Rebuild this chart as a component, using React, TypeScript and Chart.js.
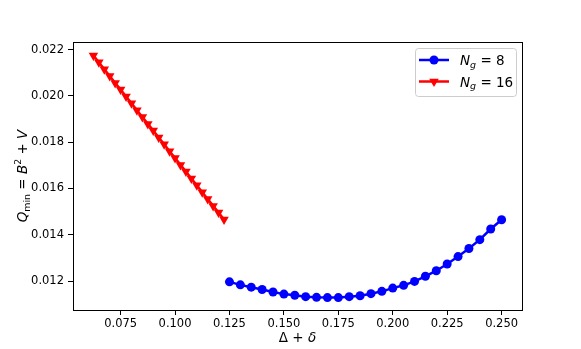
import React, { useEffect, useRef } from "react";
import { Chart, registerables } from "chart.js";
Chart.register(...registerables);

const xBlue = [0.125, 0.13, 0.135, 0.14, 0.145, 0.15, 0.155, 0.16, 0.165, 0.17, 0.175, 0.18, 0.185, 0.19, 0.195, 0.2, 0.205, 0.21, 0.215, 0.22, 0.225, 0.23, 0.235, 0.24, 0.245, 0.25];
const yBlue = [0.01197, 0.01184, 0.01174, 0.01164, 0.01153, 0.01144, 0.01139, 0.01133, 0.0113, 0.01129, 0.01129, 0.01133, 0.01137, 0.01146, 0.01156, 0.0117, 0.01182, 0.01199, 0.01221, 0.01245, 0.01274, 0.01306, 0.01341, 0.01379, 0.01425, 0.01465];
const xRed = [0.0625, 0.065, 0.0675, 0.07, 0.0725, 0.075, 0.0775, 0.08, 0.0825, 0.085, 0.0875, 0.09, 0.0925, 0.095, 0.0975, 0.1, 0.1025, 0.105, 0.1075, 0.11, 0.1125, 0.115, 0.1175, 0.12, 0.1225];
const yRed = [0.02174, 0.02145, 0.02115, 0.02086, 0.02056, 0.02027, 0.01997, 0.01968, 0.01938, 0.01909, 0.01879, 0.0185, 0.0182, 0.01791, 0.01761, 0.01732, 0.01702, 0.01673, 0.01643, 0.01614, 0.01584, 0.01555, 0.01525, 0.01496, 0.01466];
const xTicks = [0.075, 0.1, 0.125, 0.15, 0.175, 0.2, 0.225, 0.25];
const yTicks = [0.012, 0.014, 0.016, 0.018, 0.02, 0.022];
const seriesNg = ["8", "16"];

type Seg = { t: string; it?: boolean; sub?: boolean; sup?: boolean };
const FAM = '"DejaVu Sans"';

function segFont(s: Seg, size: number) {
  const sz = s.sub || s.sup ? size * 0.7 : size;
  return `${s.it ? "italic " : ""}${sz}px ${FAM}`;
}
function measureSegs(ctx: CanvasRenderingContext2D, segs: Seg[], size: number) {
  let w = 0;
  for (const s of segs) {
    ctx.font = segFont(s, size);
    w += ctx.measureText(s.t).width;
  }
  return w;
}
function drawSegs(ctx: CanvasRenderingContext2D, segs: Seg[], x: number, y: number, size: number) {
  let cx = x;
  for (const s of segs) {
    ctx.font = segFont(s, size);
    const dy = s.sub ? size * 0.22 : s.sup ? -size * 0.42 : 0;
    ctx.fillText(s.t, cx, y + dy);
    cx += ctx.measureText(s.t).width;
  }
}

const xLabel: Seg[] = [{ t: "Δ" }, { t: " + " }, { t: "δ", it: true }];
const yLabel: Seg[] = [
  { t: "Q", it: true },
  { t: "min", sub: true },
  { t: " = " },
  { t: "B", it: true },
  { t: "2", sup: true },
  { t: " + " },
  { t: "V", it: true },
];

const decor = {
  id: "decor",
  afterDraw(chart: any) {
    const ctx: CanvasRenderingContext2D = chart.ctx;
    const a = chart.chartArea;
    ctx.save();
    ctx.strokeStyle = "#000";
    ctx.lineWidth = 1;
    ctx.strokeRect(Math.round(a.left) + 0.5, Math.round(a.top) + 0.5, Math.round(a.right - a.left), Math.round(a.bottom - a.top));
    ctx.fillStyle = "#000";
    ctx.textBaseline = "alphabetic";
    const size = 13.5;
    const wx = measureSegs(ctx, xLabel, size);
    drawSegs(ctx, xLabel, (a.left + a.right) / 2 - wx / 2, 341.5, size);
    const wy = measureSegs(ctx, yLabel, size);
    ctx.save();
    ctx.translate(27, (a.top + a.bottom) / 2);
    ctx.rotate(-Math.PI / 2);
    drawSegs(ctx, yLabel, -wy / 2, 0, size);
    ctx.restore();

    // legend
    const bx = 415.5, by = 48.5, bw = 101, bh = 48, r = 3;
    ctx.beginPath();
    ctx.moveTo(bx + r, by);
    ctx.arcTo(bx + bw, by, bx + bw, by + bh, r);
    ctx.arcTo(bx + bw, by + bh, bx, by + bh, r);
    ctx.arcTo(bx, by + bh, bx, by, r);
    ctx.arcTo(bx, by, bx + bw, by, r);
    ctx.closePath();
    ctx.fillStyle = "rgba(255,255,255,0.8)";
    ctx.fill();
    ctx.strokeStyle = "#cccccc";
    ctx.lineWidth = 1;
    ctx.stroke();
    const colors = ["#0000ff", "#ff0000"];
    const ys = [60, 81.5];
    for (let i = 0; i < 2; i++) {
      const y = ys[i];
      ctx.strokeStyle = colors[i];
      ctx.fillStyle = colors[i];
      ctx.lineWidth = 2.5;
      ctx.beginPath();
      ctx.moveTo(419, y);
      ctx.lineTo(449, y);
      ctx.stroke();
      ctx.beginPath();
      if (i === 0) {
        ctx.arc(434, y, 4.5, 0, Math.PI * 2);
      } else {
        ctx.moveTo(434 - 4.8, y - 2.75);
        ctx.lineTo(434 + 4.8, y - 2.75);
        ctx.lineTo(434, y + 5.5);
        ctx.closePath();
      }
      ctx.fill();
      ctx.fillStyle = "#000";
      const segs: Seg[] = [{ t: "N", it: true }, { t: "g", it: true, sub: true }, { t: " = " + seriesNg[i] }];
      drawSegs(ctx, segs, 460, y + 5, 13.5);
    }
    ctx.restore();
  },
};

export default function App() {
  const ref = useRef<HTMLCanvasElement>(null);
  useEffect(() => {
    const tickFont = { family: "DejaVu Sans", size: 11.5 };
    const chart = new Chart(ref.current!, {
      type: "line",
      data: {
        datasets: [
          {
            label: "Ng=8",
            data: xBlue.map((x, i) => ({ x, y: yBlue[i] })),
            borderColor: "#0000ff",
            backgroundColor: "#0000ff",
            borderWidth: 2.5,
            pointRadius: 4.5,
            pointStyle: "circle",
            pointBorderWidth: 0,
          },
          {
            label: "Ng=16",
            data: xRed.map((x, i) => ({ x, y: yRed[i] })),
            borderColor: "#ff0000",
            backgroundColor: "#ff0000",
            borderWidth: 2.5,
            pointRadius: 5.5,
            pointStyle: "triangle",
            pointRotation: 180,
            pointBorderWidth: 0,
          },
        ],
      },
      options: {
        responsive: false,
        animation: false,
        layout: { padding: { left: 0, top: 42, right: 59, bottom: 0 } },
        plugins: { legend: { display: false }, tooltip: { enabled: false } },
        scales: {
          x: {
            type: "linear",
            min: 0.053125,
            max: 0.259375,
            afterBuildTicks: (s: any) => {
              s.ticks = xTicks.map((v) => ({ value: v }));
            },
            afterFit: (s: any) => {
              s.height = 39;
            },
            ticks: { font: tickFont, color: "#000", padding: 2, maxRotation: 0, callback: (v: any) => Number(v).toFixed(3) },
            grid: { drawOnChartArea: false, drawTicks: true, tickLength: 5, color: "#000" },
            border: { color: "#000" },
          },
          y: {
            type: "linear",
            min: 0.010754,
            max: 0.022326,
            afterBuildTicks: (s: any) => {
              s.ticks = yTicks.map((v) => ({ value: v }));
            },
            afterFit: (s: any) => {
              s.width = 73;
            },
            ticks: { font: tickFont, color: "#000", padding: 4, callback: (v: any) => Number(v).toFixed(3) },
            grid: { drawOnChartArea: false, drawTicks: true, tickLength: 5, color: "#000" },
            border: { color: "#000" },
          },
        },
      },
      plugins: [decor],
    } as any);
    return () => chart.destroy();
  }, []);
  return (
    <div style={{ position: "absolute", left: 0, top: 0, width: 581, height: 349, background: "#fff" }}>
      <canvas ref={ref} width={581} height={349} />
    </div>
  );
}
